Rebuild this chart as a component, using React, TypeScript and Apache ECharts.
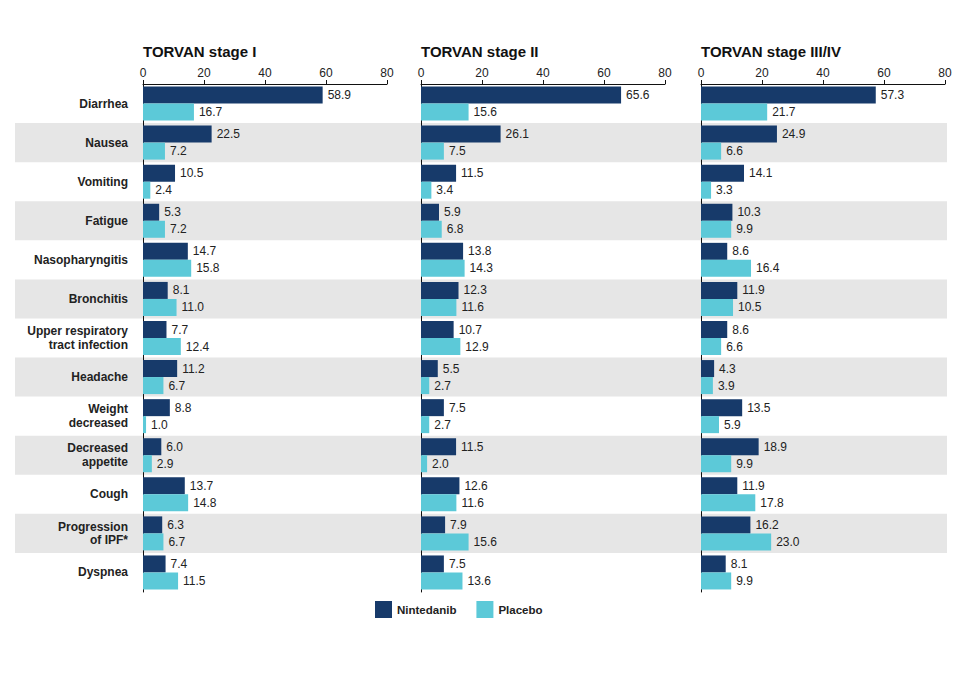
import React, { useEffect, useRef } from "react";
import * as echarts from "echarts";

const categories = [
  "Diarrhea",
  "Nausea",
  "Vomiting",
  "Fatigue",
  "Nasopharyngitis",
  "Bronchitis",
  "Upper respiratory\ntract infection",
  "Headache",
  "Weight\ndecreased",
  "Decreased\nappetite",
  "Cough",
  "Progression\nof IPF*",
  "Dyspnea",
];

const panelTitles = ["TORVAN stage I", "TORVAN stage II", "TORVAN stage III/IV"];
const seriesNames = ["Nintedanib", "Placebo"];

const stage1Nintedanib = [58.9, 22.5, 10.5, 5.3, 14.7, 8.1, 7.7, 11.2, 8.8, 6.0, 13.7, 6.3, 7.4];
const stage1Placebo = [16.7, 7.2, 2.4, 7.2, 15.8, 11.0, 12.4, 6.7, 1.0, 2.9, 14.8, 6.7, 11.5];
const stage2Nintedanib = [65.6, 26.1, 11.5, 5.9, 13.8, 12.3, 10.7, 5.5, 7.5, 11.5, 12.6, 7.9, 7.5];
const stage2Placebo = [15.6, 7.5, 3.4, 6.8, 14.3, 11.6, 12.9, 2.7, 2.7, 2.0, 11.6, 15.6, 13.6];
const stage34Nintedanib = [57.3, 24.9, 14.1, 10.3, 8.6, 11.9, 8.6, 4.3, 13.5, 18.9, 11.9, 16.2, 8.1];
const stage34Placebo = [21.7, 6.6, 3.3, 9.9, 16.4, 10.5, 6.6, 3.9, 5.9, 9.9, 17.8, 23.0, 9.9];

const panelData = [
  [stage1Nintedanib, stage1Placebo],
  [stage2Nintedanib, stage2Placebo],
  [stage34Nintedanib, stage34Placebo],
];

const xMin = 0;
const xMax = 80;
const xInterval = 20;

const COLORS = ["#173a6a", "#5cc9d8"];
const FONT = "Liberation Sans, Arial, Helvetica, sans-serif";

export default function App() {
  const ref = useRef<HTMLDivElement>(null);

  useEffect(() => {
    if (!ref.current) return;
    const chart = echarts.init(ref.current, null, { renderer: "svg" });

    const panelLefts = [143, 421, 701];
    const panelWidth = 244;
    const top = 84;
    const height = 508;

    const grids: any[] = panelLefts.map((l) => ({ left: l, top, width: panelWidth, height }));
    grids.push({ left: 15, top, width: 932, height });

    const xAxes: any[] = panelLefts.map((_, i) => ({
      type: "value",
      gridIndex: i,
      position: "top",
      min: xMin,
      max: xMax,
      interval: xInterval,
      z: 1,
      axisLine: { show: true, lineStyle: { color: "#111", width: 1 } },
      axisTick: { show: true, length: 4, lineStyle: { color: "#111" } },
      axisLabel: { color: "#222", fontSize: 12, fontFamily: FONT, margin: 5 },
      splitLine: { show: false },
    }));
    xAxes.push({ type: "value", gridIndex: 3, show: false, min: 0, max: 1 });

    const yAxes: any[] = panelLefts.map((_, i) => ({
      type: "category",
      gridIndex: i,
      data: categories,
      inverse: true,
      z: 1,
      axisLine: { show: true, lineStyle: { color: "#111", width: 1 } },
      axisTick: { show: false },
      axisLabel: {
        show: i === 0,
        color: "#222",
        fontSize: 12,
        fontWeight: "bold",
        fontFamily: FONT,
        margin: 15,
        lineHeight: 13.5,
        align: "right",
      },
      splitLine: { show: false },
    }));
    yAxes.push({
      type: "category",
      gridIndex: 3,
      data: categories,
      inverse: true,
      z: 0,
      axisLine: { show: false },
      axisTick: { show: false },
      axisLabel: { show: false },
      splitLine: { show: false },
      splitArea: { show: true, areaStyle: { color: ["rgba(0,0,0,0)", "#e6e6e6"] } },
    });

    const series: any[] = [];
    panelData.forEach((pair, p) => {
      pair.forEach((vals, s) => {
        series.push({
          type: "bar",
          name: seriesNames[s],
          xAxisIndex: p,
          yAxisIndex: p,
          data: vals,
          barWidth: 17,
          barGap: "0%",
          itemStyle: { color: COLORS[s] },
          label: {
            show: true,
            position: "right",
            distance: 5,
            color: "#222",
            fontSize: 12,
            fontFamily: FONT,
            formatter: (d: any) => Number(d.value).toFixed(1),
          },
        });
      });
    });

    chart.setOption({
      animation: false,
      backgroundColor: "#fff",
      textStyle: { fontFamily: FONT },
      title: panelTitles.map((t, i) => ({
        text: t,
        left: panelLefts[i],
        top: 44,
        padding: 0,
        textStyle: { fontSize: 15, fontWeight: "bold", color: "#111", fontFamily: FONT },
      })),
      legend: {
        data: seriesNames,
        left: 375,
        top: 601,
        icon: "rect",
        itemWidth: 17,
        itemHeight: 17,
        itemGap: 20,
        padding: 0,
        textStyle: { fontSize: 11.5, fontWeight: "bold", color: "#222", fontFamily: FONT },
      },
      grid: grids,
      xAxis: xAxes,
      yAxis: yAxes,
      series,
    });

    return () => chart.dispose();
  }, []);

  return (
    <div
      ref={ref}
      style={{ position: "fixed", left: 0, top: 0, width: 969, height: 674 }}
    />
  );
}
